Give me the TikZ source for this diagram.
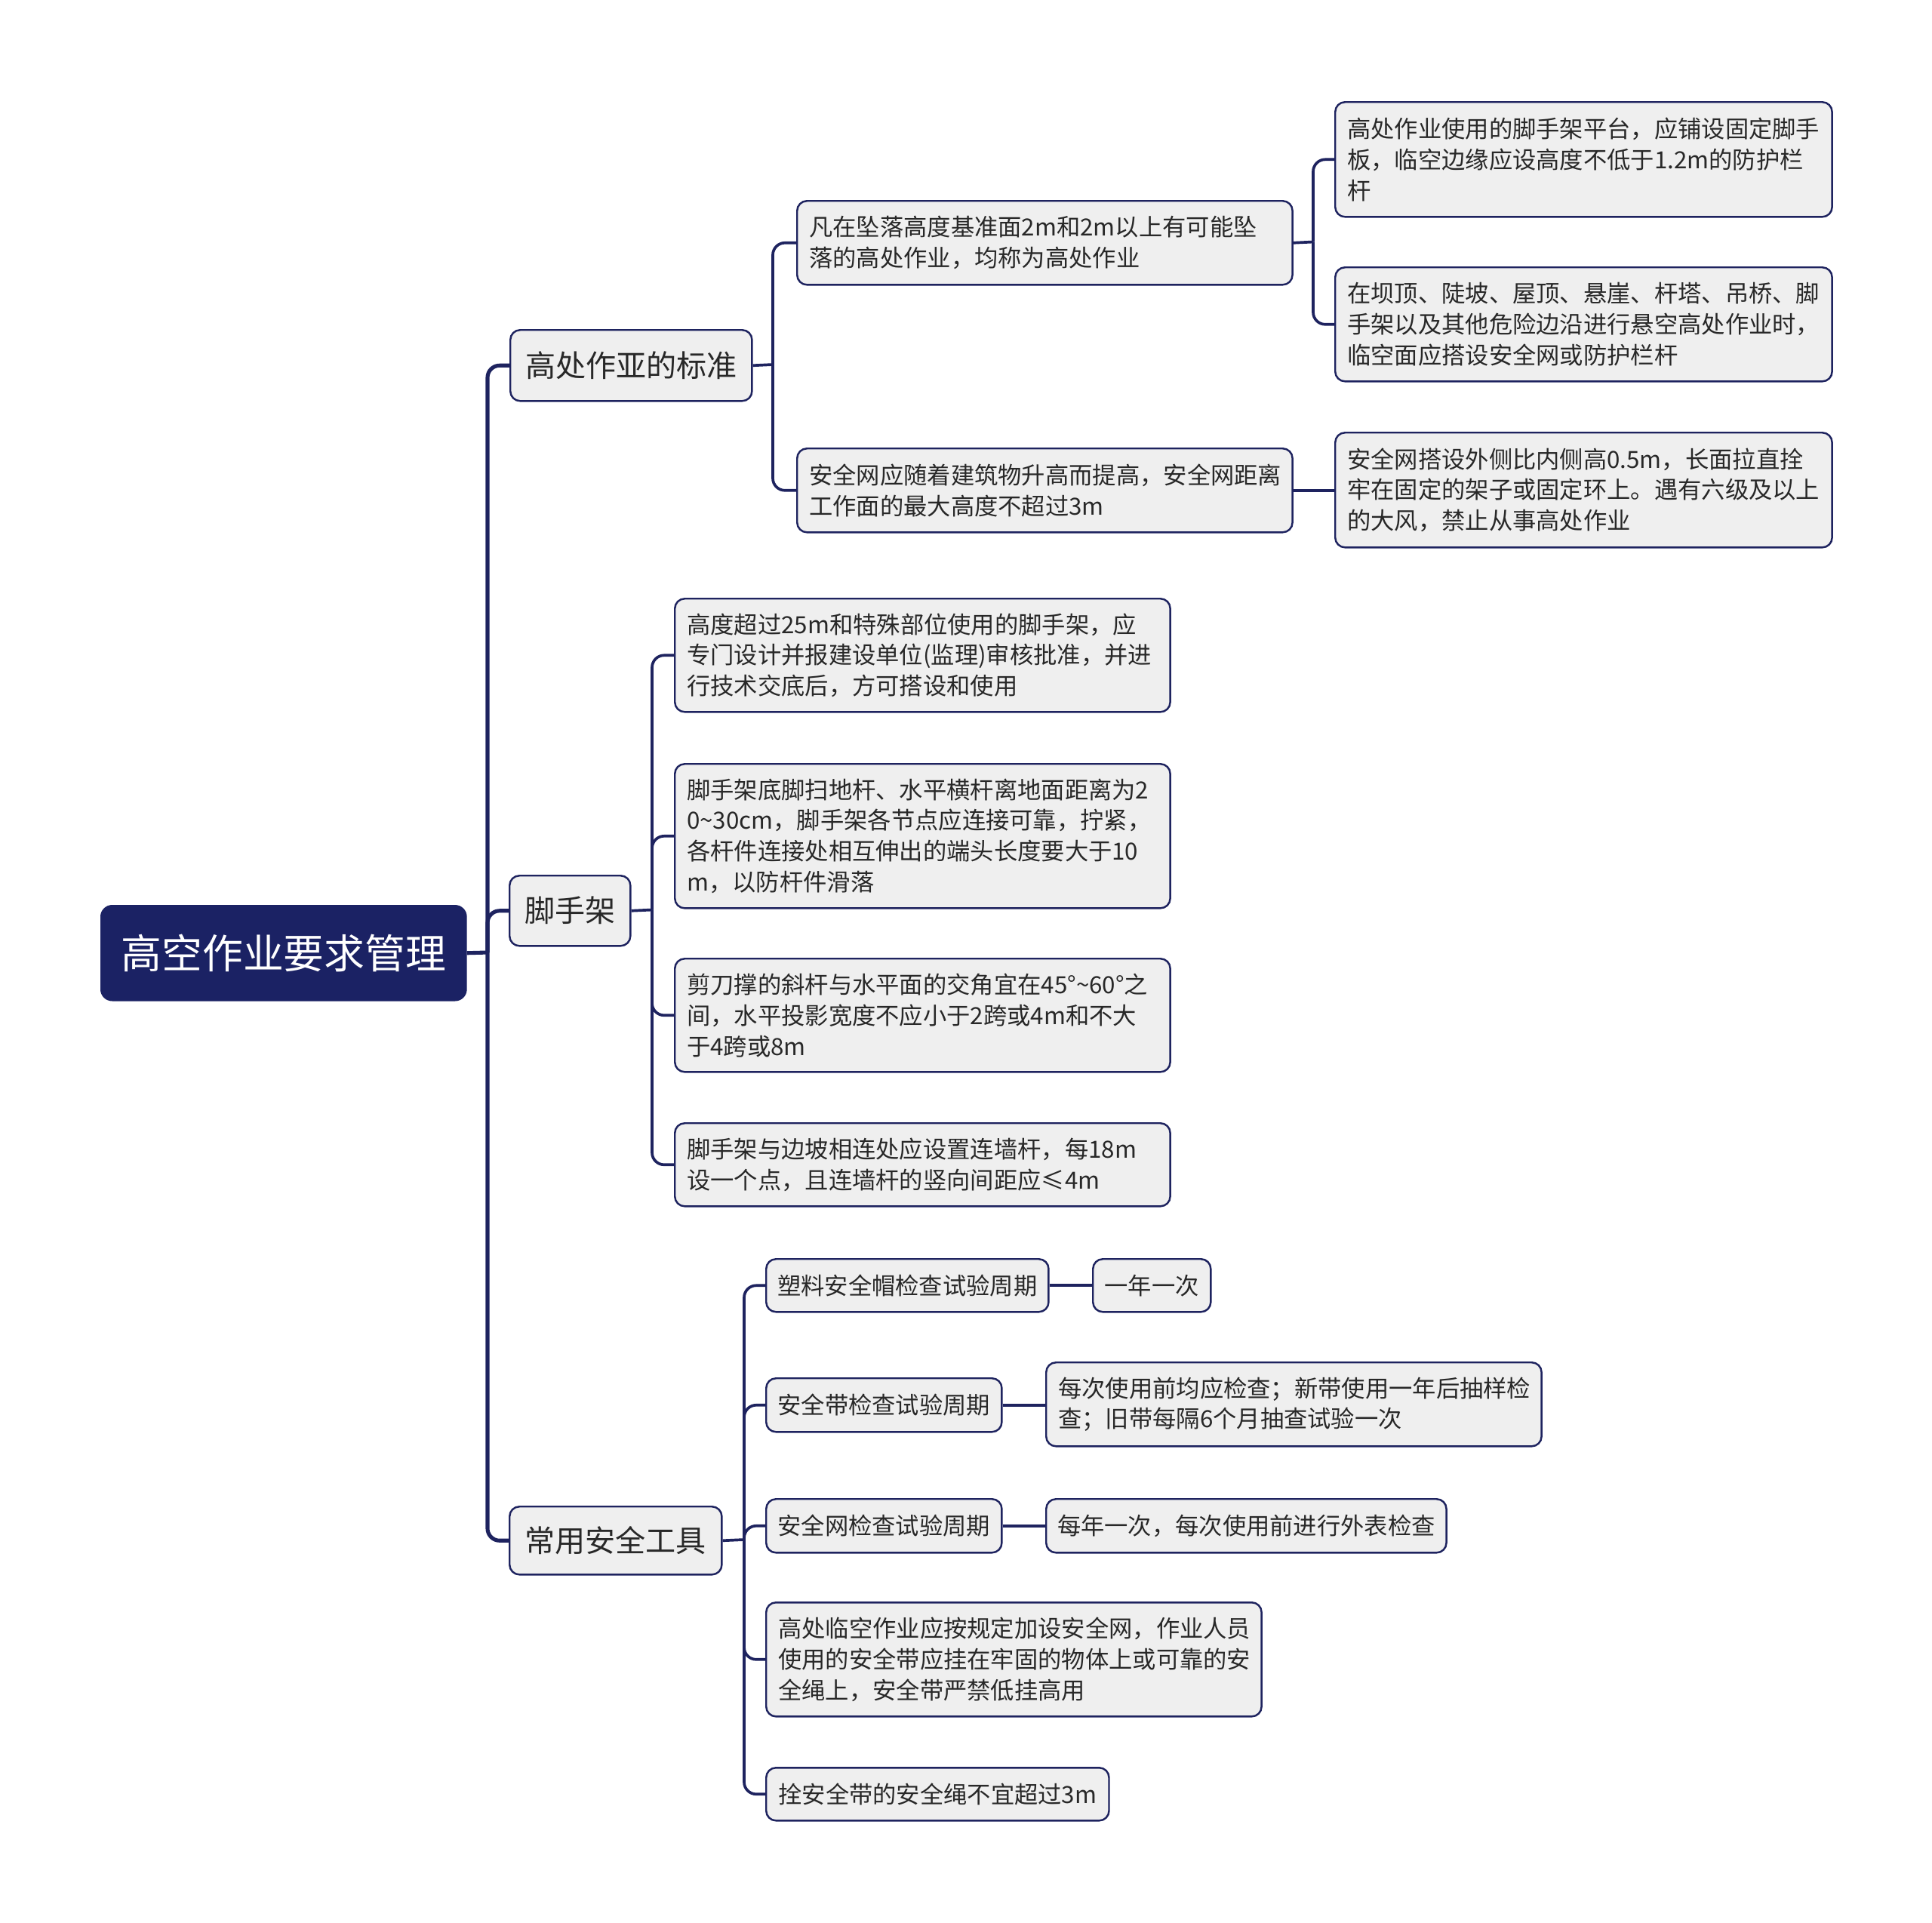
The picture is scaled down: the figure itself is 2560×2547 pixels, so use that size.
\documentclass[tikz,border=0pt]{standalone}
\usepackage{fontspec}
\setmainfont{Noto Sans CJK SC}
\definecolor{navy}{RGB}{27,34,100}
\definecolor{linec}{RGB}{30,35,95}
\definecolor{boxfill}{RGB}{239,239,239}
\definecolor{txt}{RGB}{40,40,40}
\begin{document}
\begin{tikzpicture}[x=0.01cm,y=-0.01cm,
  box/.style={draw=linec, line width=0.7pt, fill=boxfill, rounded corners=0.13cm,
    anchor=north west, inner sep=0pt, text=txt,
    font=\fontsize{8.9pt}{11.6pt}\selectfont},
  multi/.style={align=left},
  lvone/.style={box, font=\fontsize{11.4pt}{14pt}\selectfont},
  rootbox/.style={fill=navy, draw=navy, rounded corners=0.15cm, anchor=north west,
    inner sep=0pt, text=white, font=\fontsize{15.3pt}{18pt}\selectfont},
  connA/.style={draw=linec, line width=1.45pt},
  connB/.style={draw=linec, line width=1.05pt},
  rc/.style={rounded corners=0.16cm}]
\useasboundingbox (0,0) rectangle (2560,2547);

% root
\node[rootbox, minimum width=4.84cm, minimum height=1.26cm] (root) at (133,1199) {高空作业要求管理};

% level 1
\node[lvone, minimum width=3.20cm, minimum height=0.94cm] (A) at (675,436) {高处作亚的标准};
\node[lvone, minimum width=1.60cm, minimum height=0.93cm] (B) at (674,1159) {脚手架};
\node[lvone, minimum width=2.81cm, minimum height=0.90cm] (C) at (674,1995) {常用安全工具};

% A children
\node[box, multi, minimum width=6.56cm, minimum height=1.11cm, text width=6.24cm] (A1) at (1055,265)
  {凡在坠落高度基准面2m和2m以上有可能坠\\落的高处作业，均称为高处作业};
\node[box, multi, minimum width=6.56cm, minimum height=1.11cm, text width=6.24cm] (A2) at (1055,593)
  {安全网应随着建筑物升高而提高，安全网距离\\工作面的最大高度不超过3m};
\node[box, multi, minimum width=6.58cm, minimum height=1.52cm, text width=6.26cm] (A1a) at (1768,134)
  {高处作业使用的脚手架平台，应铺设固定脚手\\板，临空边缘应设高度不低于1.2m的防护栏\\杆};
\node[box, multi, minimum width=6.58cm, minimum height=1.51cm, text width=6.26cm] (A1b) at (1768,353)
  {在坝顶、陡坡、屋顶、悬崖、杆塔、吊桥、脚\\手架以及其他危险边沿进行悬空高处作业时，\\临空面应搭设安全网或防护栏杆};
\node[box, multi, minimum width=6.58cm, minimum height=1.52cm, text width=6.26cm] (A2a) at (1768,572)
  {安全网搭设外侧比内侧高0.5m，长面拉直拴\\牢在固定的架子或固定环上。遇有六级及以上\\的大风，禁止从事高处作业};

% B children
\node[box, multi, minimum width=6.56cm, minimum height=1.50cm, text width=6.24cm] (B1) at (893,792)
  {高度超过25m和特殊部位使用的脚手架，应\\专门设计并报建设单位(监理)审核批准，并进\\行技术交底后，方可搭设和使用};
\node[box, multi, minimum width=6.56cm, minimum height=1.91cm, text width=6.24cm] (B2) at (893,1011)
  {脚手架底脚扫地杆、水平横杆离地面距离为2\\0\textasciitilde30cm，脚手架各节点应连接可靠，拧紧，\\各杆件连接处相互伸出的端头长度要大于10\\m，以防杆件滑落};
\node[box, multi, minimum width=6.56cm, minimum height=1.50cm, text width=6.24cm] (B3) at (893,1269)
  {剪刀撑的斜杆与水平面的交角宜在45°\textasciitilde60°之\\间，水平投影宽度不应小于2跨或4m和不大\\于4跨或8m};
\node[box, multi, minimum width=6.56cm, minimum height=1.10cm, text width=6.24cm] (B4) at (893,1487)
  {脚手架与边坡相连处应设置连墙杆，每18m\\设一个点，且连墙杆的竖向间距应≤4m};

% C children
\node[box, minimum width=3.74cm, minimum height=0.70cm] (C1) at (1014,1667) {塑料安全帽检查试验周期};
\node[box, minimum width=1.56cm, minimum height=0.70cm] (C1a) at (1447,1667) {一年一次};
\node[box, minimum width=3.12cm, minimum height=0.71cm] (C2) at (1014,1825) {安全带检查试验周期};
\node[box, multi, minimum width=6.56cm, minimum height=1.11cm, text width=6.24cm] (C2a) at (1385,1804)
  {每次使用前均应检查；新带使用一年后抽样检\\查；旧带每隔6个月抽查试验一次};
\node[box, minimum width=3.12cm, minimum height=0.71cm] (C3) at (1014,1985) {安全网检查试验周期};
\node[box, minimum width=5.30cm, minimum height=0.71cm] (C3a) at (1385,1985) {每年一次，每次使用前进行外表检查};
\node[box, multi, minimum width=6.56cm, minimum height=1.51cm, text width=6.24cm] (C4) at (1014,2122)
  {高处临空作业应按规定加设安全网，作业人员\\使用的安全带应挂在牢固的物体上或可靠的安\\全绳上，安全带严禁低挂高用};
\node[box, minimum width=4.54cm, minimum height=0.70cm] (C5) at (1014,2341) {拴安全带的安全绳不宜超过3m};

% junctions
\coordinate (jR) at (646,1262);
\coordinate (jA) at (1024,483);
\coordinate (jA1) at (1740,320.5);
\coordinate (jB) at (864,1205.5);
\coordinate (jC) at (986,2040);

% connectors root
\draw[connA] (root.east) -- (jR);
\draw[connA, rc] (jR) |- (A.west);
\draw[connA, rc] (jR) |- (B.west);
\draw[connA, rc] (jR) |- (C.west);

% A
\draw[connB] (A.east) -- (jA);
\draw[connB, rc] (jA) |- (A1.west);
\draw[connB, rc] (jA) |- (A2.west);
\draw[connB] (A1.east) -- (jA1);
\draw[connB, rc] (jA1) |- (A1a.west);
\draw[connB, rc] (jA1) |- (A1b.west);
\draw[connB] (A2.east) -- (A2.east -| A2a.west);

% B
\draw[connB] (B.east) -- (jB);
\draw[connB, rc] (jB) |- (B1.west);
\draw[connB, rc] (jB) |- (B2.west);
\draw[connB, rc] (jB) |- (B3.west);
\draw[connB, rc] (jB) |- (B4.west);

% C
\draw[connB] (C.east) -- (jC);
\draw[connB, rc] (jC) |- (C1.west);
\draw[connB, rc] (jC) |- (C2.west);
\draw[connB, rc] (jC) |- (C3.west);
\draw[connB, rc] (jC) |- (C4.west);
\draw[connB, rc] (jC) |- (C5.west);
\draw[connB] (C1.east) -- (C1a.west);
\draw[connB] (C2.east) -- (C2.east -| C2a.west);
\draw[connB] (C3.east) -- (C3a.west);
\end{tikzpicture}
\end{document}
